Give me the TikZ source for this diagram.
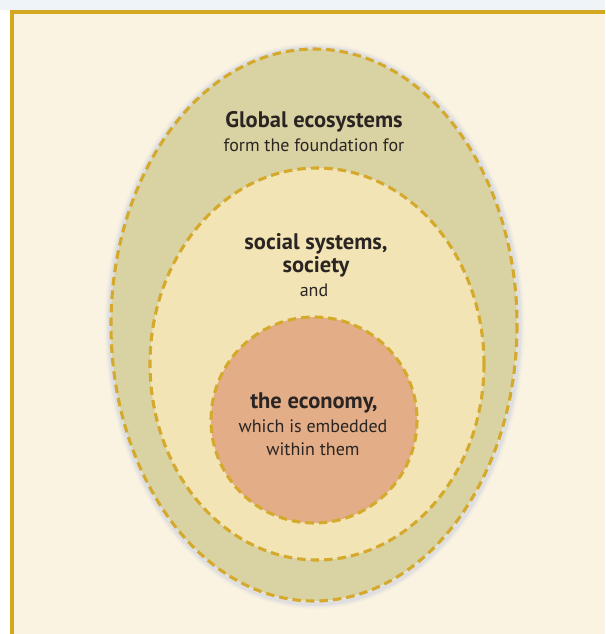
\documentclass[tikz,border=0pt]{standalone}
\usepackage{fontspec}
\setmainfont{PT Sans}

\definecolor{paper}{HTML}{FBF3E1}
\definecolor{frame}{HTML}{D1A820}
\definecolor{strip}{HTML}{EEF4F7}
\definecolor{dashgold}{HTML}{D4A92C}
\definecolor{ecofill}{HTML}{D9D3A3}
\definecolor{socfill}{HTML}{F2E4B4}
\definecolor{econfill}{HTML}{E2AD87}
\definecolor{halo}{HTML}{8FA8E0}
\definecolor{ink}{HTML}{2A2523}

\begin{document}
\begin{tikzpicture}[x=1pt,y=-1pt,
    ring/.style={draw=dashgold, line width=3.1pt, dash pattern=on 8.5pt off 5pt},
    head/.style={font=\fontsize{22.5}{26}\selectfont\bfseries, text=ink, inner sep=0pt},
    sub/.style={font=\fontsize{18}{22}\selectfont, text=ink, inner sep=0pt}]
\useasboundingbox (0,0) rectangle (605,634);
% page and frame
\fill[white] (0,0) rectangle (605,634);
\fill[strip] (0,0) rectangle (605,10);
\fill[paper] (14,14) rectangle (605,634);
\fill[frame] (10,10) rectangle (605,14);
\fill[frame] (10,10) rectangle (14,634);
% soft halo round the outer ring
\foreach \w/\o in {10/0.05, 7/0.08, 4/0.14}
  \draw[halo, line width=\w pt, opacity=\o] (314.5,326) ellipse [x radius=205, y radius=278];
% the three rings
\draw[ring, fill=ecofill] (314,325) ellipse [x radius=203, y radius=276];
\draw[ring, fill=socfill] (317,364) ellipse [x radius=167, y radius=196];
\draw[ring, fill=econfill] (314,420) circle [radius=103];
% texts
\node[head] (eco)    at (314,122) {Global ecosystems};
\node[sub]  (ecosub) at (314,145) {form the foundation for};
\node[head] (soc)    at (316,244) {social systems,};
\node[head] (soc2)   at (316,267) {society};
\node[sub]  (socsub) at (314,290) {and};
\node[head] (econ)   at (314,403) {the economy,};
\node[sub]  (econ2)  at (313,426) {which is embedded};
\node[sub]  (econ3)  at (313,449) {within them};
\end{tikzpicture}
\end{document}
